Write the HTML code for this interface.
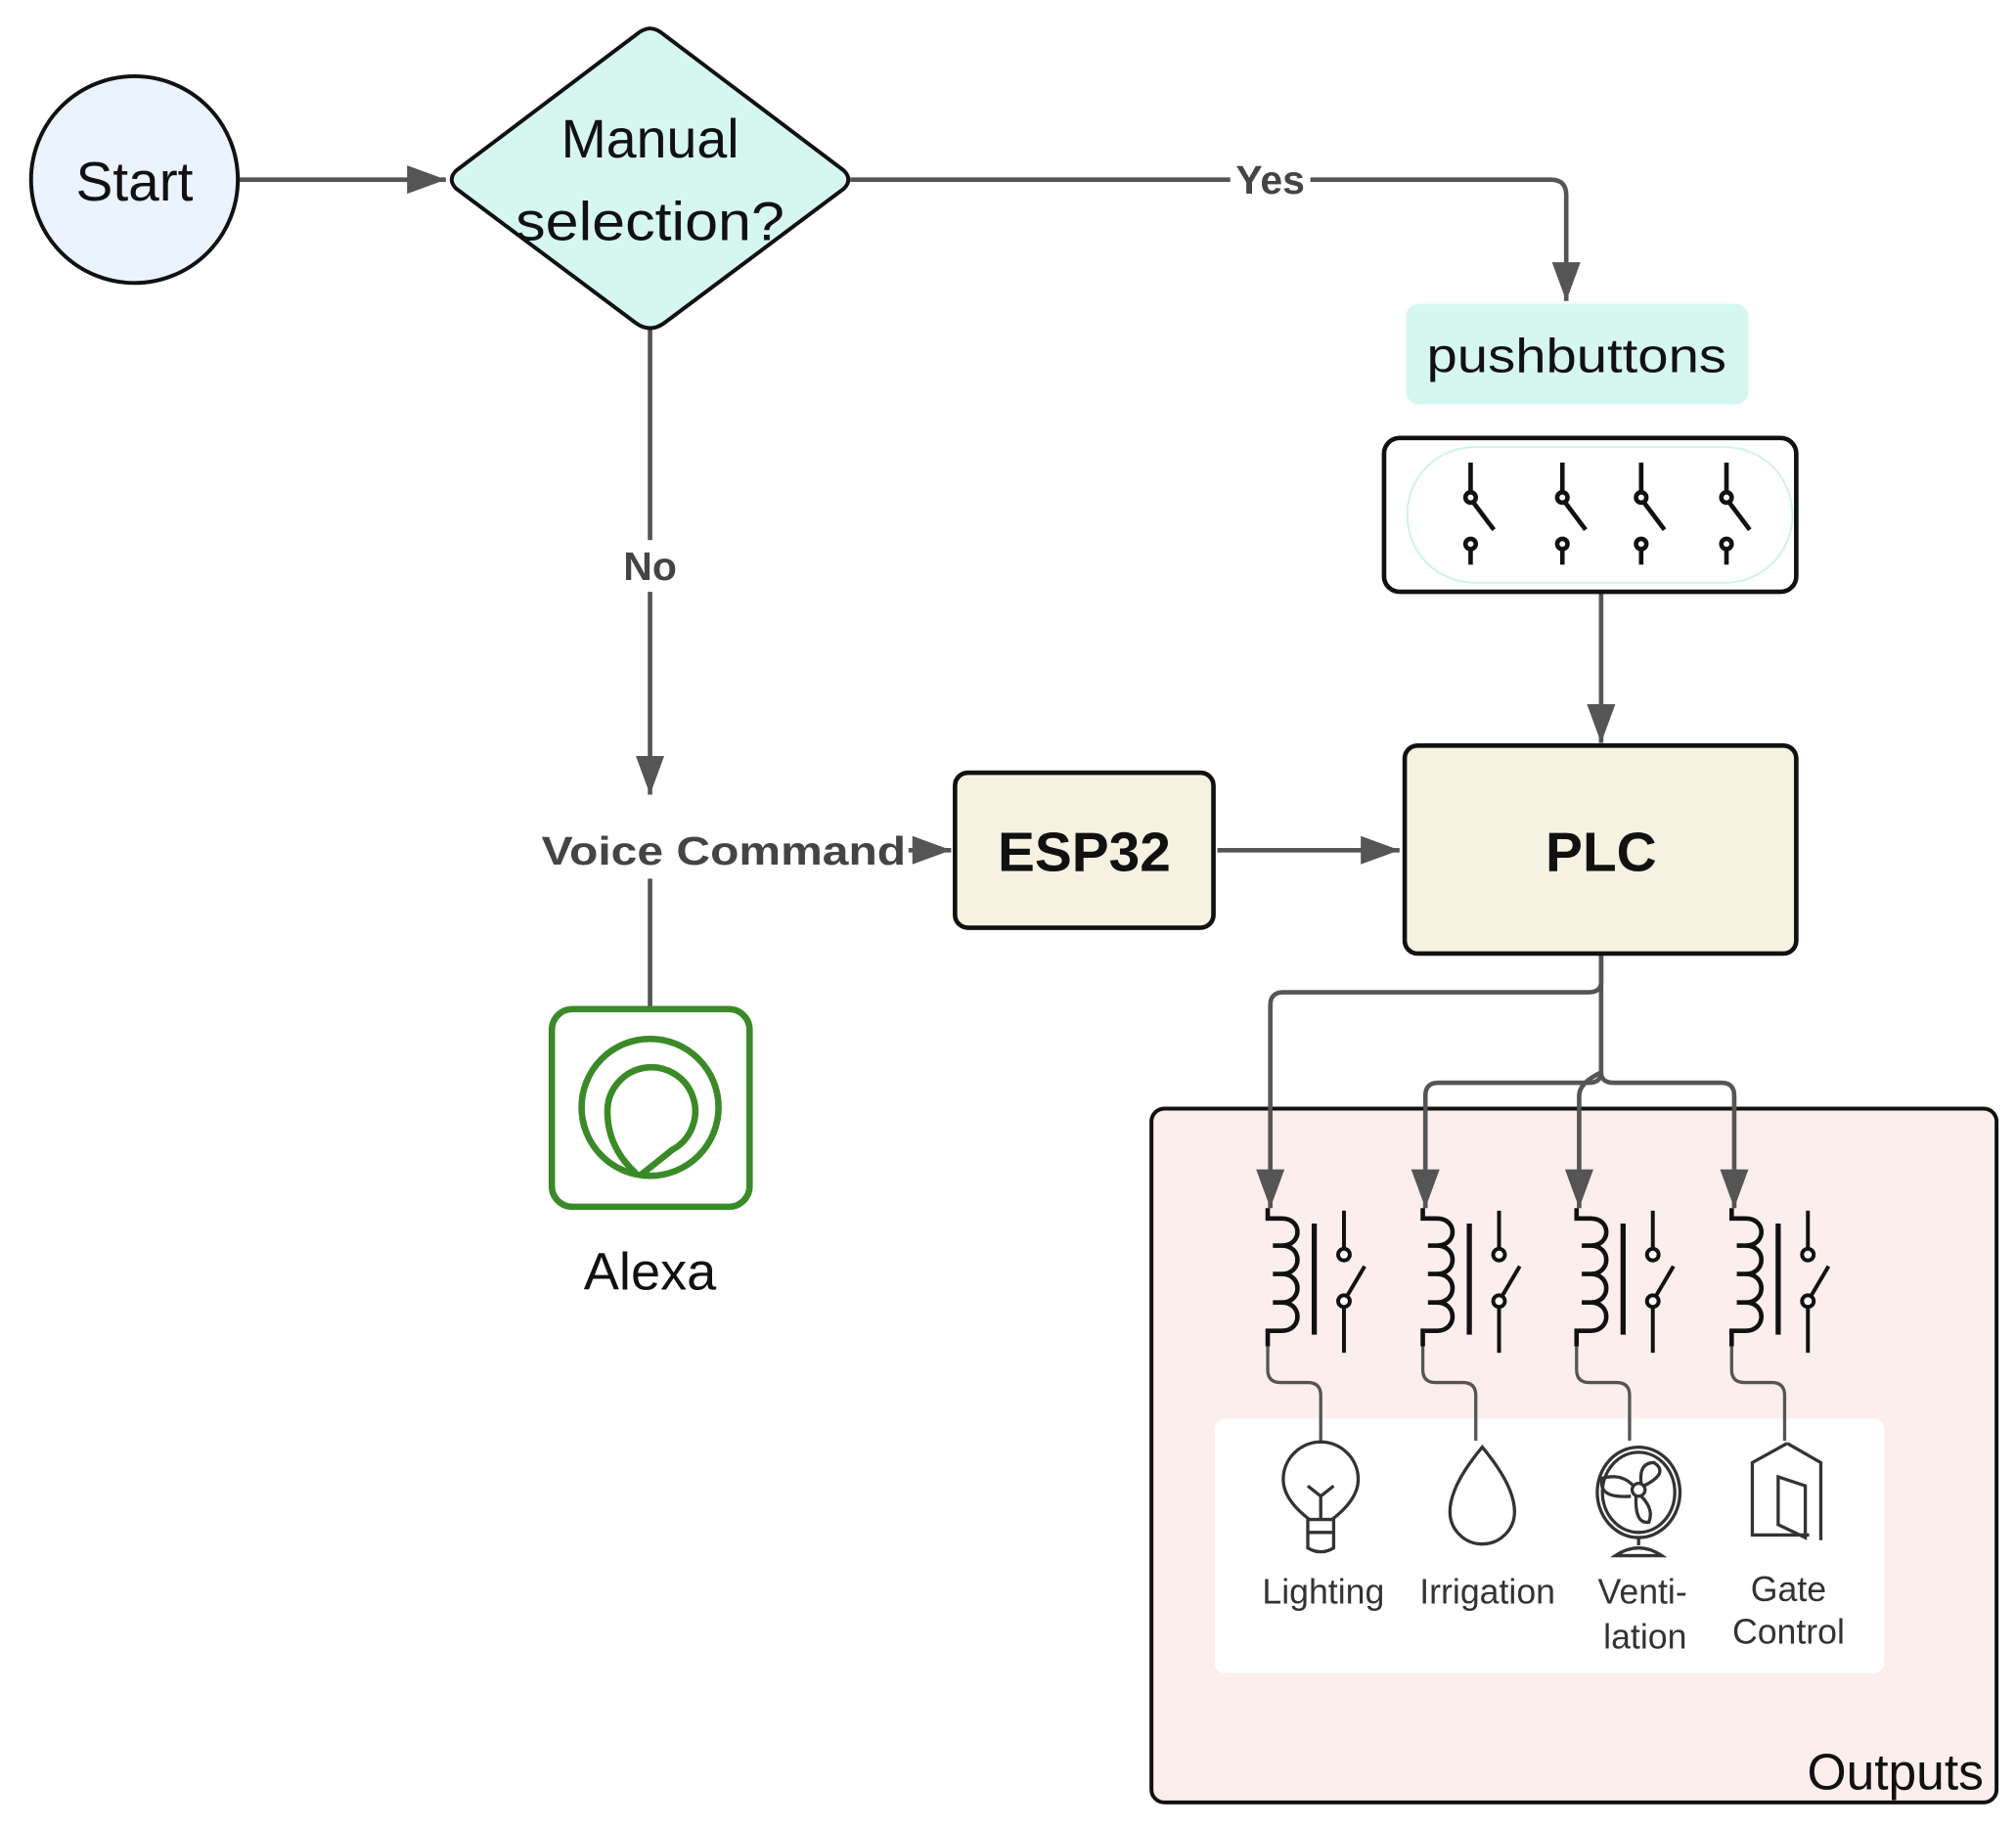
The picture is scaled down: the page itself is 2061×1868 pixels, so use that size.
<!DOCTYPE html>
<html><head><meta charset="utf-8"><style>html,body{margin:0;padding:0;background:#fff}svg{display:block}</style></head>
<body>
<svg width="2061" height="1868" viewBox="0 0 1560 1414" xmlns="http://www.w3.org/2000/svg" font-family="Liberation Sans, sans-serif">
<defs>
<marker id="ab" viewBox="0 0 10 10" refX="10" refY="5" markerWidth="30" markerHeight="22" markerUnits="userSpaceOnUse" orient="auto" preserveAspectRatio="none">
<path d="M0,0 L10,5 L0,10 z" fill="#555"/></marker>
</defs>
<!-- Outputs -->
<rect x="891" y="858" width="654" height="537" rx="10" fill="#fdeeee" stroke="#111" stroke-width="3"/>
<rect x="940" y="1098" width="518" height="197" rx="8" fill="#fff"/>
<text x="1535" y="1385" font-size="39" text-anchor="end" fill="#111">Outputs</text>

<!-- connectors -->
<g stroke="#555" stroke-width="3.5" fill="none">
<line x1="184" y1="139" x2="345" y2="139" marker-end="url(#ab)"/>
<path d="M658,139 H1200 Q1212,139 1212,151 V233" marker-end="url(#ab)"/>
<line x1="503" y1="255" x2="503" y2="615" marker-end="url(#ab)"/>
<line x1="503" y1="680" x2="503" y2="780"/>
<line x1="703" y1="658" x2="736" y2="658" marker-end="url(#ab)"/>
<line x1="942" y1="658" x2="1083" y2="658" marker-end="url(#ab)"/>
<line x1="1239" y1="458" x2="1239" y2="575" marker-end="url(#ab)"/>
<path d="M1239,738 V760 Q1239,768 1229,768 H993 Q983,768 983,778 V935" marker-end="url(#ab)"/>
<path d="M1239,738 V830 Q1239,838 1229,838 H1113 Q1103,838 1103,848 V935" marker-end="url(#ab)"/>
<path d="M1239,830 Q1239,838 1249,838 H1332 Q1342,838 1342,848 V935" marker-end="url(#ab)"/>
<path d="M1239,830 Q1222,838 1222,848 V935" marker-end="url(#ab)"/>
</g>
<rect x="952" y="122" width="62" height="34" fill="#fff"/>
<text x="983" y="150" font-size="31" font-weight="bold" text-anchor="middle" fill="#444">Yes</text>
<rect x="475" y="418" width="56" height="40" fill="#fff"/>
<text x="503" y="449" font-size="31" font-weight="bold" text-anchor="middle" fill="#444">No</text>
<text x="560" y="669" font-size="31" font-weight="bold" text-anchor="middle" fill="#444" textLength="282" lengthAdjust="spacingAndGlyphs">Voice Command</text>

<!-- Start -->
<circle cx="104" cy="139" r="80" fill="#eaf3fe" stroke="#111" stroke-width="3"/>
<text x="104" y="155" font-size="43" text-anchor="middle" fill="#111">Start</text>
<!-- diamond -->
<path d="M503,22 Q508,22 514,27 L653,132 Q660,139 653,146 L514,250 Q503,258 492,250 L353,146 Q346,139 353,132 L492,27 Q498,22 503,22 z" fill="#d6f7f0" stroke="#111" stroke-width="3"/>
<text x="503" y="122" font-size="42" text-anchor="middle" fill="#111">Manual</text>
<text x="503" y="186" font-size="42" text-anchor="middle" fill="#111" textLength="208" lengthAdjust="spacingAndGlyphs">selection?</text>

<!-- pushbuttons -->
<rect x="1088" y="235" width="265" height="78" rx="10" fill="#d6f7f0"/>
<text x="1220" y="288" font-size="37" text-anchor="middle" fill="#111" textLength="232" lengthAdjust="spacingAndGlyphs">pushbuttons</text>
<rect x="1071" y="339" width="319" height="119" rx="12" fill="#fff" stroke="#111" stroke-width="3.5"/>
<rect x="1089" y="346" width="298" height="105" rx="52" fill="none" stroke="#cdf3ec" stroke-width="1.5"/>
<g stroke="#111" stroke-width="3.5" fill="#fff">
<g id="sw"><line x1="1138" y1="358" x2="1138" y2="380"/><line x1="1138" y1="386" x2="1156" y2="410"/><circle cx="1138" cy="385" r="4"/><circle cx="1138" cy="421" r="4"/><line x1="1138" y1="425" x2="1138" y2="437"/></g>
<use href="#sw" x="71"/><use href="#sw" x="132"/><use href="#sw" x="198"/>
</g>

<!-- ESP32 / PLC -->
<rect x="739" y="598" width="200" height="120" rx="10" fill="#f5f2e1" stroke="#111" stroke-width="3.5"/>
<text x="839" y="674" font-size="43" font-weight="bold" text-anchor="middle" fill="#111">ESP32</text>
<rect x="1087" y="577" width="303" height="161" rx="10" fill="#f5f2e1" stroke="#111" stroke-width="3.5"/>
<text x="1239" y="674" font-size="43" font-weight="bold" text-anchor="middle" fill="#111">PLC</text>

<!-- Alexa -->
<rect x="427" y="781" width="153" height="153" rx="16" fill="#fff" stroke="#3b8a28" stroke-width="5"/>
<circle cx="503" cy="857" r="53" fill="none" stroke="#3b8a28" stroke-width="5"/>
<path d="M492,908 Q470,888 470,860 A34,34 0 1 1 520,890 Q505,902 495,910" fill="none" stroke="#3b8a28" stroke-width="5"/>
<text x="503" y="998" font-size="41" text-anchor="middle" fill="#111">Alexa</text>

<!-- relays -->
<g id="rl" fill="none">
<path d="M981,935 V943 H992 C1008,943 1008,964 992,964 H985 M985,964 H992 C1008,964 1008,986 992,986 H985 M985,986 H992 C1008,986 1008,1008 992,1008 H985 M985,1008 H992 C1008,1008 1008,1030 992,1030 H981 V1042" stroke="#111" stroke-width="3.5"/>
<line x1="1017" y1="947" x2="1017" y2="1033" stroke="#111" stroke-width="4"/>
<line x1="1040" y1="937" x2="1040" y2="967" stroke="#111" stroke-width="3"/>
<line x1="1040" y1="1012" x2="1040" y2="1047" stroke="#111" stroke-width="3"/>
<line x1="1043" y1="1002" x2="1056" y2="980" stroke="#111" stroke-width="3"/>
<circle cx="1040" cy="971" r="4.5" fill="#fff" stroke="#111" stroke-width="3"/>
<circle cx="1040" cy="1007" r="4.5" fill="#fff" stroke="#111" stroke-width="3"/>
<path d="M981,1042 V1060 Q981,1070 991,1070 H1012 Q1022,1070 1022,1080 V1115" stroke="#555" stroke-width="2.5"/>
</g>
<use href="#rl" x="120"/><use href="#rl" x="239"/><use href="#rl" x="359"/>

<!-- icons -->
<g fill="none" stroke="#333" stroke-width="2.5">
<path d="M1012,1175 Q993,1160 993,1145 A29,29 0 1 1 1051,1145 Q1051,1160 1032,1175 V1198 Q1022,1204 1012,1198 z"/>
<line x1="1012" y1="1186" x2="1032" y2="1186"/><line x1="1012" y1="1176" x2="1032" y2="1176"/>
<path d="M1022,1175 V1158 M1012,1150 L1022,1158 L1032,1150"/>
<path d="M1147,1120 Q1172,1150 1172,1170 A25,25 0 0 1 1122,1170 Q1122,1150 1147,1120 z"/>
<ellipse cx="1268" cy="1155" rx="32" ry="35"/>
<ellipse cx="1268" cy="1155" rx="28" ry="31"/>
<circle cx="1268" cy="1153" r="5"/>
<path d="M1264,1150 Q1255,1140 1240,1144 Q1236,1160 1262,1158 M1270,1148 Q1268,1132 1280,1132 Q1292,1140 1272,1150 M1270,1158 Q1280,1168 1276,1178 Q1265,1180 1266,1158"/>
<path d="M1268,1190 V1196 M1250,1204 Q1268,1192 1286,1204 z"/>
<path d="M1383,1117 L1409,1132 V1192 M1383,1117 L1356,1132 V1188 H1400"/>
<path d="M1376,1143 L1397,1150 V1190 L1376,1180 z"/>
</g>
<g font-size="27" fill="#333" text-anchor="middle">
<text x="1024" y="1241">Lighting</text>
<text x="1151" y="1241">Irrigation</text>
<text x="1271" y="1241">Venti-</text>
<text x="1273" y="1276">lation</text>
<text x="1384" y="1239">Gate</text>
<text x="1384" y="1272">Control</text>
</g>
</svg>
</body></html>
